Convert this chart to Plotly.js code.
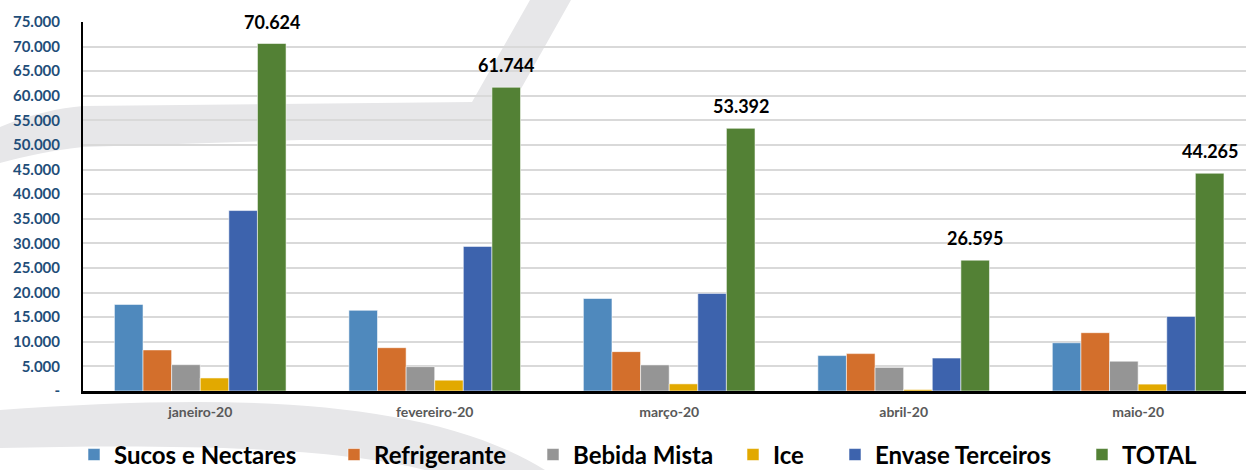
<!DOCTYPE html>
<html>
<head>
<meta charset="utf-8">
<script src="https://cdn.plot.ly/plotly-3.0.1.min.js"></script>
<style>
  html, body { margin: 0; padding: 0; background: #ffffff; }
  #wrap { position: relative; width: 1246px; height: 470px; overflow: hidden; }
  #bg { position: absolute; left: 0; top: 0; }
  #chart { position: absolute; left: 0; top: 0; width: 1246px; height: 470px; }
</style>
</head>
<body>
<div id="wrap">
  <svg id="bg" width="1246" height="470" xmlns="http://www.w3.org/2000/svg">
    <path d="M0,127 C30,114 60,108 83,106 L472,102 L530,0 L571,0 L492,140 L300,140 L83,147 C55,150 25,156 0,163 Z" fill="#e7e7e9"/>
    <path d="M0,410 C200,396 420,392 545,470 L425,470 C330,446 160,444 0,448 Z" fill="#e7e7e9"/>
  </svg>
  <div id="chart"></div>
</div>
<script>
const months = ["janeiro-20", "fevereiro-20", "março-20", "abril-20", "maio-20"];
const seriesNames = ["Sucos e Nectares", "Refrigerante", "Bebida Mista", "Ice", "Envase Terceiros", "TOTAL"];
const sucos = [17600, 16400, 18800, 7200, 9800];
const refrigerante = [8350, 8800, 8000, 7600, 11850];
const bebidaMista = [5350, 4950, 5300, 4800, 6050];
const ice = [2650, 2200, 1450, 300, 1400];
const envase = [36674, 29394, 19842, 6695, 15165];
const total = [70624, 61744, 53392, 26595, 44265];
const yTickVals = [0, 5000, 10000, 15000, 20000, 25000, 30000, 35000, 40000, 45000, 50000, 55000, 60000, 65000, 70000, 75000];
const yTickText = ["-", "5.000", "10.000", "15.000", "20.000", "25.000", "30.000", "35.000", "40.000", "45.000", "50.000", "55.000", "60.000", "65.000", "70.000", "75.000"];

const colors = ["#4f89bd", "#d36f2c", "#959595", "#e2a900", "#3d63ad", "#538135"];
const allValues = [sucos, refrigerante, bebidaMista, ice, envase, total];

function fmt(v) {
  return String(v).replace(/\B(?=(\d{3})+(?!\d))/g, ".");
}

const FONT = "Lato, 'Open Sans', sans-serif";
const bargap = 0.268;
// left edges (px) of each legend entry, one legend per series
const legendLeftPx = [74, 334, 533, 733, 835, 1082];

const legendKey = i => (i === 0 ? "legend" : "legend" + (i + 1));

const traces = allValues.map((vals, i) => ({
  type: "bar",
  name: seriesNames[i],
  legend: i === 0 ? "legend" : "legend" + (i + 1),
  x: months,
  y: vals,
  marker: { color: colors[i], line: { color: "rgba(255,255,255,0.55)", width: 1 } },
  hoverinfo: "skip"
}));

const n = seriesNames.length;
const totalOffset = (n - 1) / 2 * (1 - bargap) / n;

const annotations = total.map((v, i) => ({
  x: i + totalOffset,
  y: v,
  xref: "x",
  yref: "y",
  text: "<b>" + fmt(v) + "</b>",
  showarrow: false,
  yanchor: "bottom",
  yshift: 9,
  font: { family: FONT, size: 18, color: "#000000" }
}));

const layout = {
  width: 1246,
  height: 470,
  margin: { l: 83, r: 0, t: 22, b: 79 },
  paper_bgcolor: "rgba(0,0,0,0)",
  plot_bgcolor: "rgba(0,0,0,0)",
  barmode: "group",
  bargap: bargap,
  bargroupgap: 0,
  showlegend: true,
  xaxis: {
    type: "category",
    range: [-0.5, 4.46],
    showline: true,
    linecolor: "#000000",
    linewidth: 3,
    showgrid: false,
    ticks: "",
    ticklabelstandoff: 6,
    tickfont: { family: FONT, size: 14, color: "#595959", weight: "bold" },
    fixedrange: true
  },
  yaxis: {
    range: [0, 75000],
    tickmode: "array",
    tickvals: yTickVals,
    ticktext: yTickText,
    showline: true,
    linecolor: "#000000",
    linewidth: 2,
    showgrid: true,
    gridcolor: "#d9d9d9",
    gridwidth: 2,
    zeroline: false,
    ticks: "",
    ticklabelstandoff: 18,
    tickfont: { family: FONT, size: 15, color: "#1f4e79", weight: "bold" },
    fixedrange: true
  },
  annotations: annotations
};

seriesNames.forEach((_, i) => {
  layout[legendKey(i)] = {
    orientation: "h",
    xref: "container",
    yref: "container",
    x: legendLeftPx[i] / 1246,
    xanchor: "left",
    y: 0.032,
    yanchor: "middle",
    bgcolor: "rgba(0,0,0,0)",
    font: { family: FONT, size: 24, color: "#000000", weight: "bold" },
    itemclick: false,
    itemdoubleclick: false
  };
});

Plotly.newPlot("chart", traces, layout, { displayModeBar: false, staticPlot: true });
</script>
</body>
</html>
